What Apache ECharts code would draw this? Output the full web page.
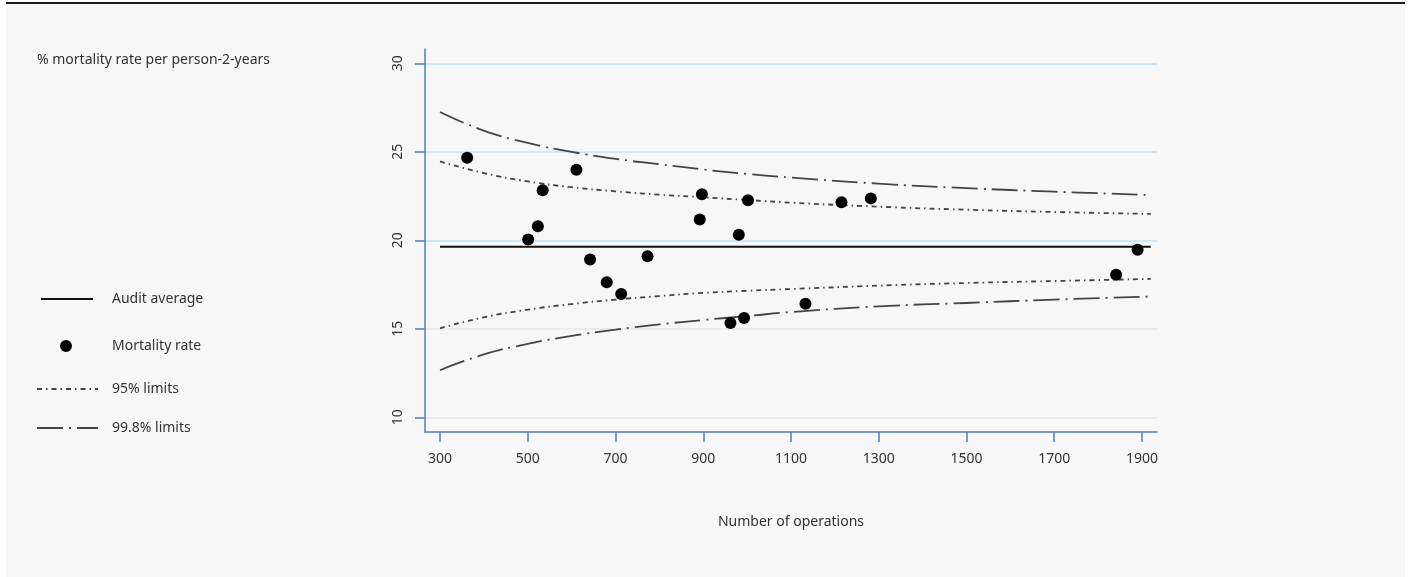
<!DOCTYPE html>
<html lang="en">
<head>
<meta charset="UTF-8">
<title>Mortality funnel plot</title>
<script src="https://cdn.jsdelivr.net/npm/echarts@6/dist/echarts.min.js"></script>
<style>
	body{margin:0;background:#fff;}
	.bg{position:absolute;left:6px;top:2px;width:1399px;height:573px;background:#f7f7f7;border-top:2px solid #1a1a1a;}
	#chart{position:absolute;left:0;top:0;width:1410px;height:577px;}
</style>
</head>
<body>
<div class="bg"></div>
<div id="chart"></div>
<script>
// ticks
var xTicks = [300, 500, 700, 900, 1100, 1300, 1500, 1700, 1900];
var yTicks = [10, 15, 20, 25, 30];

// mortality rate per unit (operations, %)
var unitOps  = [362, 501, 523, 534, 611, 642, 680, 713, 773, 892, 897, 962, 981, 993, 1002, 1133, 1215, 1282, 1841, 1890];
var unitRate = [24.67, 20.04, 20.79, 22.83, 23.99, 18.91, 17.63, 16.97, 19.10, 21.17, 22.60, 15.33, 20.31, 15.61, 22.26, 16.42, 22.15, 22.37, 18.06, 19.47];

// audit average
var avgX = [300, 1920];
var avgRate = 19.64;

// control limits read at these operation counts
var limitX   = [300, 400, 500, 600, 700, 800, 900, 1000, 1100, 1300, 1500, 1700, 1920];
var upper998 = [27.25, 26.2, 25.5, 25.0, 24.6, 24.3, 24.0, 23.75, 23.55, 23.2, 22.95, 22.75, 22.56];
var upper95  = [24.46, 23.8, 23.33, 23.0, 22.77, 22.58, 22.43, 22.28, 22.13, 21.9, 21.73, 21.6, 21.49];
var lower95  = [15.03, 15.65, 16.08, 16.4, 16.65, 16.85, 17.03, 17.15, 17.25, 17.44, 17.59, 17.7, 17.82];
var lower998 = [12.66, 13.55, 14.15, 14.6, 14.95, 15.25, 15.5, 15.72, 15.95, 16.27, 16.46, 16.65, 16.82];

function pairs(xs, ys){
	var out = [];
	for(var i=0;i<xs.length;i++){ out.push([xs[i], ys[i]]); }
	return out;
}

var font = 'Noto Sans';
var axisBlue = '#4f7fbf';
var dash95 = [5, 4, 1.5, 4];
var dash998 = [26, 6, 2, 6];

var chart = echarts.init(document.getElementById('chart'));

// one legend box per entry so the rows sit where the original has them
function legendAt(name, left, top, iconW, iconH, textPad, hideSymbol){
	var l = {
		data:[name],
		left:left, top:top,
		padding:0,
		itemWidth:iconW,
		itemHeight:iconH,
		selectedMode:false,
		textStyle:{fontFamily:font, fontSize:14, color:'#333', padding:[0,0,0,textPad]}
	};
	if(hideSymbol){ l.itemStyle = {opacity:0}; }
	return l;
}

var option = {
	animation:false,
	backgroundColor:'transparent',
	title:{
		text:'% mortality rate per person-2-years',
		left:32, top:48,
		textStyle:{fontFamily:font, fontSize:14, fontWeight:'normal', color:'#333'}
	},
	legend:[
		legendAt('Audit average', 40, 292, 52, 14, 14, true),
		legendAt('Mortality rate', 60, 339, 52, 12, 15, false),
		legendAt('95% limits', 36, 382, 61, 14, 9, true),
		legendAt('99.8% limits', 36, 421, 61, 14, 9, true)
	],
	grid:{left:425, right:253, top:49, bottom:145},
	xAxis:{
		type:'value',
		min:265.8, max:1934.2,
		name:'Number of operations',
		nameLocation:'middle',
		nameGap:83,
		nameTextStyle:{fontFamily:font, fontSize:14, color:'#333'},
		axisLine:{lineStyle:{color:axisBlue, width:1.5}},
		axisTick:{length:10, lineStyle:{color:axisBlue, width:1.5}, customValues:xTicks},
		axisLabel:{fontFamily:font, fontSize:14, color:'#333', margin:20, customValues:xTicks,
			formatter:function(v){ return String(v); }},
		splitLine:{show:false}
	},
	yAxis:{
		type:'value',
		min:9.17, max:30.81,
		axisLine:{show:true, lineStyle:{color:axisBlue, width:1.5}},
		axisTick:{show:true, length:10, lineStyle:{color:axisBlue, width:1.5}, customValues:yTicks},
		axisLabel:{fontFamily:font, fontSize:14, color:'#333', margin:20, rotate:90, customValues:yTicks,
			formatter:function(v){ return String(v); }},
		splitLine:{show:true, lineStyle:{color:['#e4edf3','#e4edf3','#cfe6f7','#cfe6f7','#cfe6f7'], width:2}}
	},
	series:[
		{
			name:'Audit average',
			type:'line',
			symbol:'none',
			data:pairs(avgX, [avgRate, avgRate]),
			lineStyle:{color:'#111', width:2},
			itemStyle:{color:'#111'},
			z:3
		},
		{
			name:'Mortality rate',
			type:'scatter',
			symbol:'circle',
			symbolSize:12,
			data:pairs(unitOps, unitRate),
			itemStyle:{color:'#000', opacity:1},
			z:5
		},
		{
			name:'95% limits',
			type:'line',
			symbol:'none',
			smooth:true,
			data:pairs(limitX, upper95),
			lineStyle:{color:'#444', width:1.8, type:dash95},
			itemStyle:{color:'#444'}
		},
		{
			name:'95% limits',
			type:'line',
			symbol:'none',
			smooth:true,
			data:pairs(limitX, lower95),
			lineStyle:{color:'#444', width:1.8, type:dash95},
			itemStyle:{color:'#444'}
		},
		{
			name:'99.8% limits',
			type:'line',
			symbol:'none',
			smooth:true,
			data:pairs(limitX, upper998),
			lineStyle:{color:'#444', width:1.8, type:dash998},
			itemStyle:{color:'#444'}
		},
		{
			name:'99.8% limits',
			type:'line',
			symbol:'none',
			smooth:true,
			data:pairs(limitX, lower998),
			lineStyle:{color:'#444', width:1.8, type:dash998},
			itemStyle:{color:'#444'}
		}
	]
};
chart.setOption(option);
</script>
</body>
</html>
